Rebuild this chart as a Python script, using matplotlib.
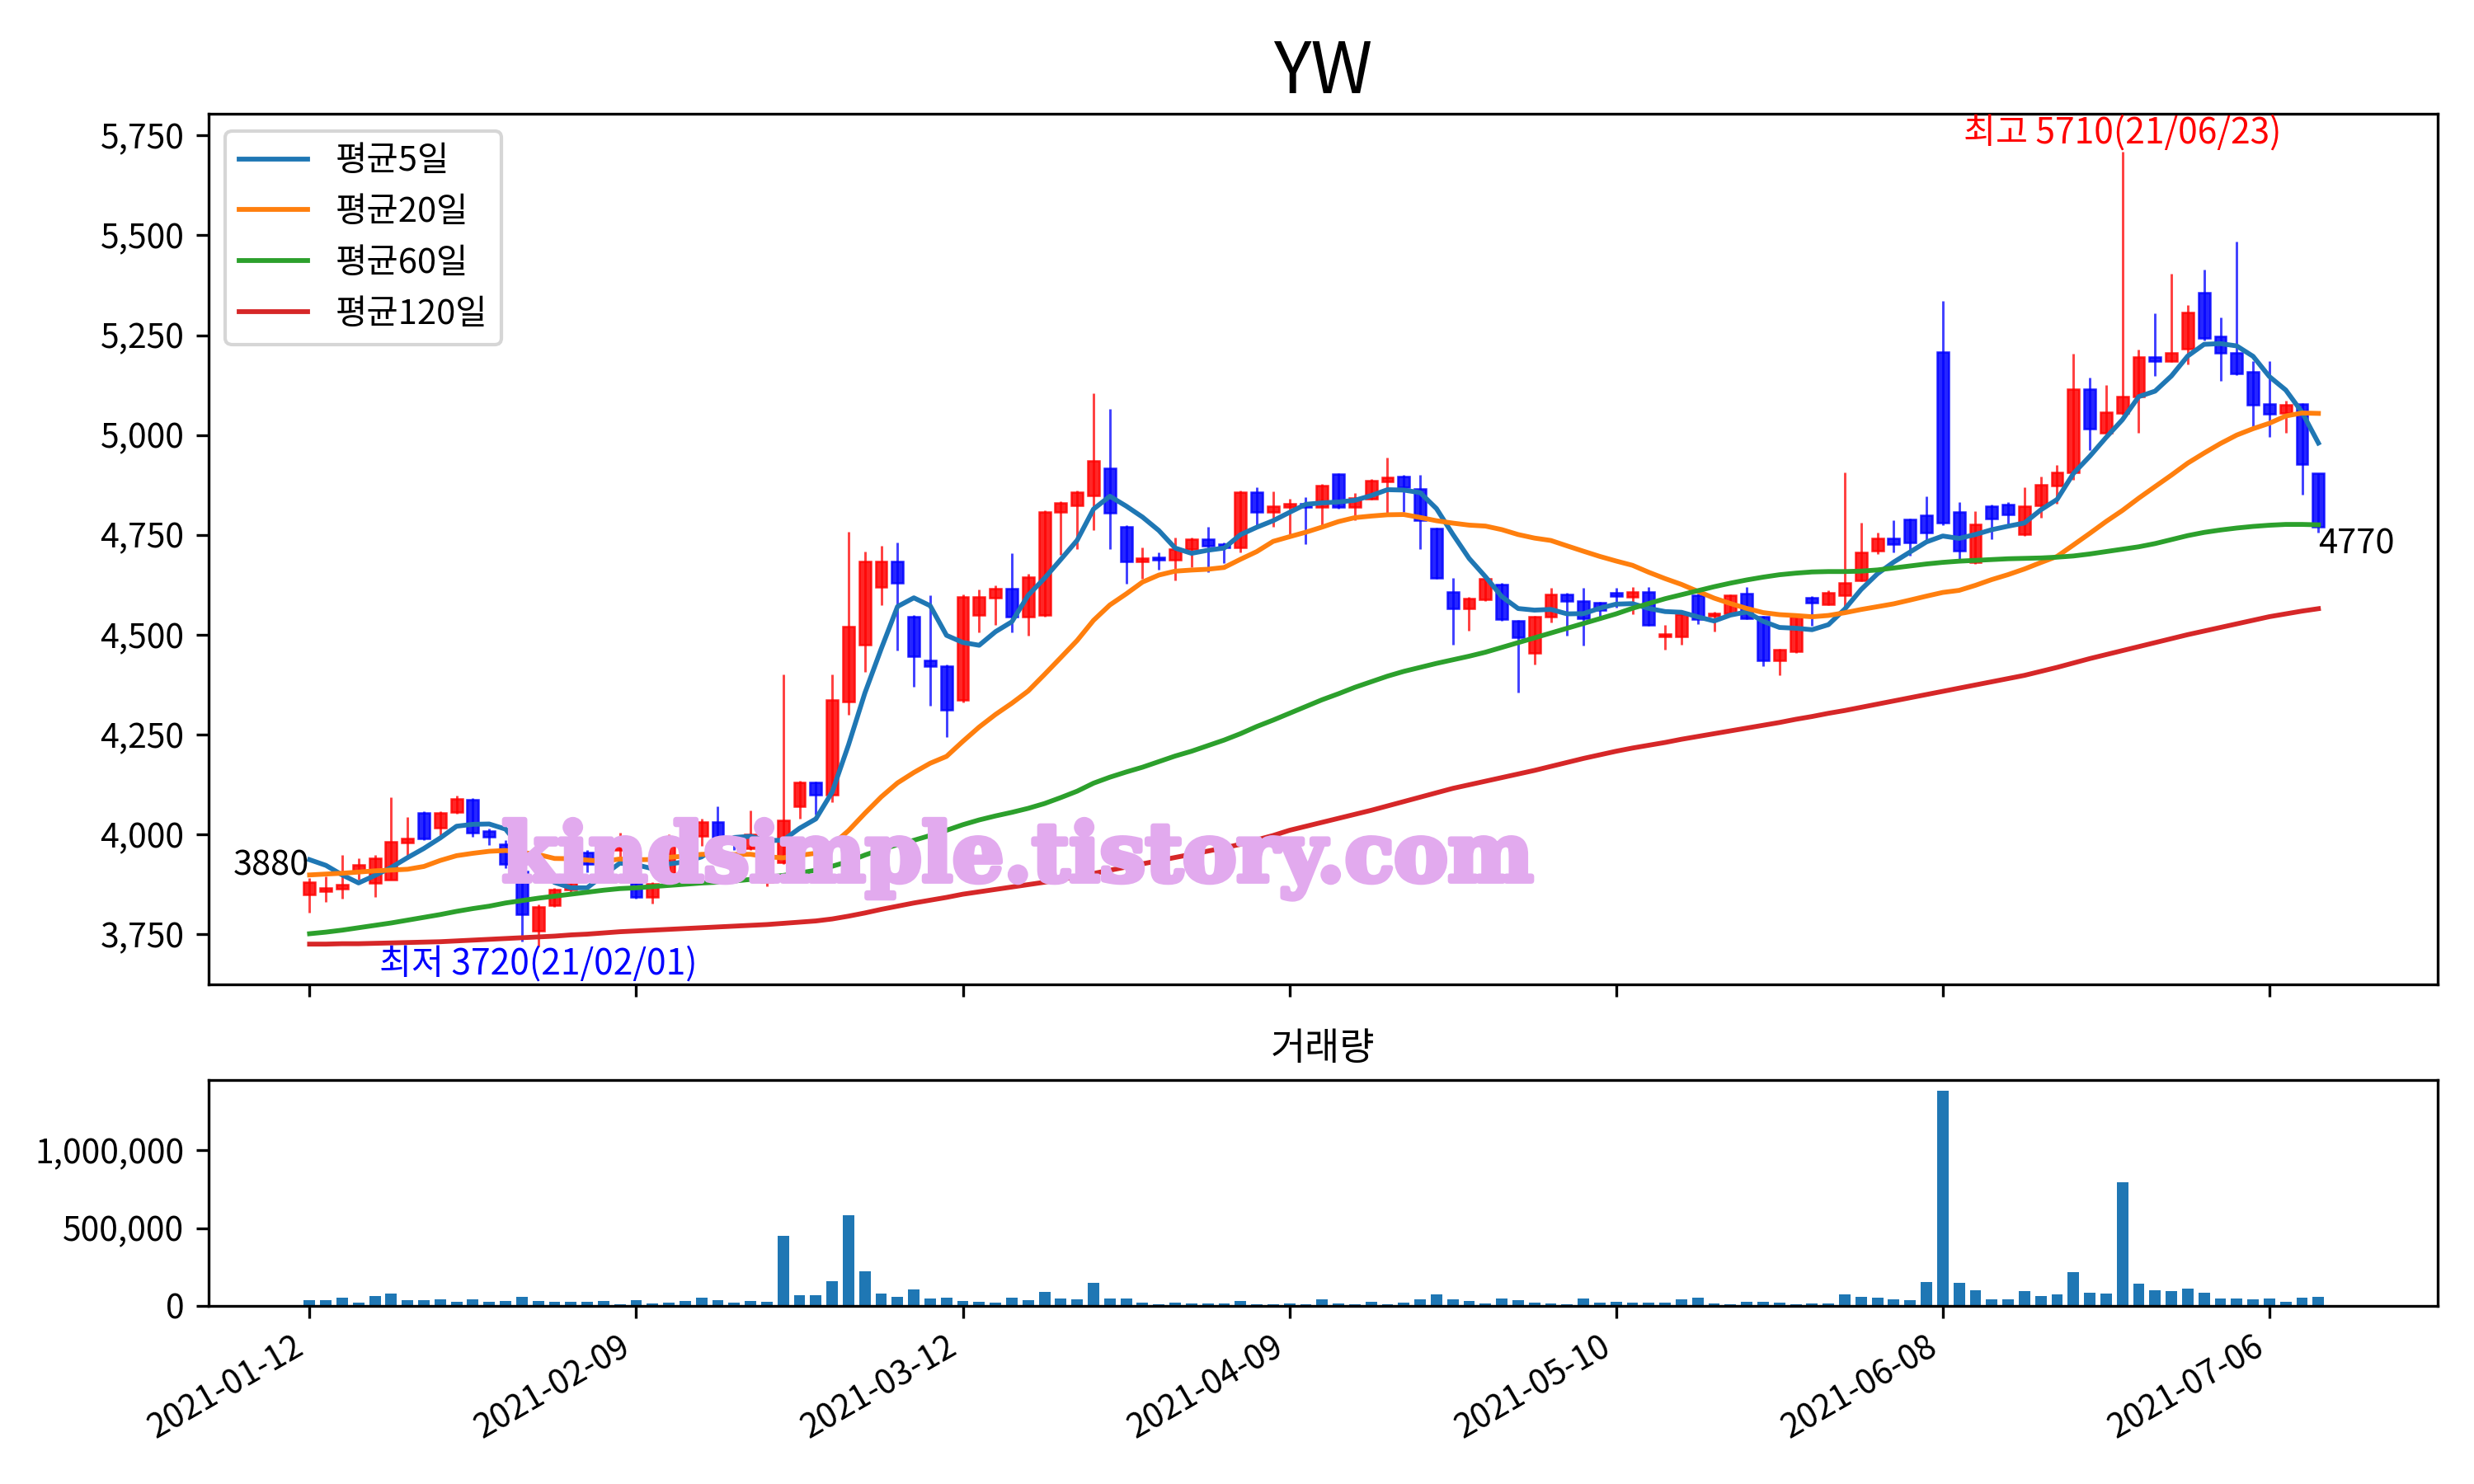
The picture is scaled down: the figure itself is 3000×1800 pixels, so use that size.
import numpy as np
import pandas as pd
import matplotlib
matplotlib.use('Agg')
import matplotlib.pyplot as plt
import matplotlib.patheffects as pe
from matplotlib.ticker import FuncFormatter

plt.rcParams['font.family'] = ['Noto Sans CJK KR', 'DejaVu Sans']
plt.rcParams['axes.unicode_minus'] = False

title = 'YW'
holidays = ['2021-02-11', '2021-02-12', '2021-03-01', '2021-05-05', '2021-05-19']
dates = pd.bdate_range('2021-01-12', periods=124, freq='C', holidays=holidays)

opens = [3850, 3857, 3864, 3910, 3878, 3886, 3979, 4054, 4017, 4056,
         4086, 4009, 3975, 3906, 3759, 3822, 3862, 3955, 3925, 3960,
         3878, 3842, 3880, 3990, 3995, 4030, 3985, 3965, 3880, 3930,
         4070, 4129, 4099, 4332, 4475, 4619, 4683, 4545, 4436, 4421,
         4337, 4549, 4592, 4616, 4545, 4549, 4807, 4824, 4848, 4916,
         4771, 4684, 4694, 4688, 4715, 4739, 4727, 4719, 4856, 4808,
         4819, 4827, 4819, 4902, 4819, 4840, 4884, 4896, 4866, 4765,
         4606, 4565, 4588, 4626, 4534, 4454, 4545, 4600, 4584, 4580,
         4604, 4595, 4606, 4495, 4495, 4599, 4546, 4553, 4602, 4544,
         4436, 4458, 4593, 4575, 4599, 4636, 4711, 4741, 4788, 4799,
         5207, 4807, 4681, 4822, 4826, 4751, 4823, 4873, 4907, 5115,
         5006, 5055, 5097, 5196, 5184, 5216, 5356, 5246, 5206, 5158,
         5077, 5055, 5077, 4905]
highs = [3890, 3894, 3949, 3939, 3949, 4092, 4044, 4058, 4058, 4096,
         4090, 4015, 3985, 3910, 3825, 3866, 3935, 3960, 3965, 4004,
         3885, 3880, 4000, 4000, 4040, 4070, 3990, 4060, 3940, 4400,
         4135, 4132, 4401, 4758, 4708, 4723, 4731, 4550, 4599, 4425,
         4600, 4614, 4624, 4704, 4652, 4811, 4835, 4860, 5104, 5065,
         4775, 4719, 4707, 4743, 4743, 4769, 4730, 4860, 4869, 4858,
         4840, 4845, 4878, 4905, 4854, 4890, 4943, 4900, 4900, 4768,
         4642, 4595, 4645, 4630, 4537, 4548, 4618, 4604, 4618, 4583,
         4618, 4619, 4619, 4524, 4555, 4602, 4558, 4600, 4619, 4546,
         4464, 4546, 4596, 4610, 4906, 4781, 4756, 4786, 4791, 4846,
         5336, 4831, 4809, 4825, 4831, 4869, 4895, 4925, 5204, 5144,
         5125, 5710, 5213, 5305, 5403, 5325, 5414, 5295, 5485, 5184,
         5184, 5085, 5080, 4905]
lows = [3803, 3830, 3838, 3886, 3842, 3886, 3937, 3985, 3997, 4052,
        3993, 3973, 3915, 3731, 3720, 3818, 3850, 3905, 3915, 3940,
        3838, 3827, 3870, 3965, 3970, 3975, 3960, 3960, 3870, 3925,
        4040, 4050, 4080, 4300, 4406, 4574, 4461, 4370, 4322, 4243,
        4330, 4505, 4525, 4505, 4497, 4545, 4700, 4715, 4761, 4715,
        4627, 4640, 4662, 4636, 4668, 4656, 4680, 4705, 4775, 4771,
        4751, 4726, 4775, 4815, 4787, 4838, 4803, 4807, 4715, 4640,
        4475, 4509, 4585, 4535, 4354, 4426, 4531, 4497, 4472, 4537,
        4567, 4552, 4522, 4462, 4475, 4527, 4507, 4550, 4539, 4421,
        4398, 4455, 4522, 4573, 4565, 4633, 4702, 4707, 4698, 4737,
        4775, 4689, 4678, 4740, 4776, 4748, 4792, 4827, 4887, 4962,
        5003, 5050, 5006, 5148, 5182, 5176, 5237, 5136, 5150, 5021,
        4996, 5006, 4851, 4756]
closes = [3880, 3866, 3874, 3923, 3941, 3981, 3989, 3989, 4054, 4088,
          4005, 3993, 3925, 3799, 3818, 3862, 3926, 3925, 3958, 3968,
          3842, 3876, 3985, 3984, 4030, 3980, 3981, 4000, 3930, 4035,
          4129, 4099, 4337, 4520, 4683, 4683, 4629, 4446, 4421, 4312,
          4594, 4594, 4616, 4545, 4644, 4807, 4830, 4856, 4935, 4805,
          4684, 4692, 4688, 4715, 4739, 4723, 4719, 4856, 4808, 4821,
          4827, 4820, 4874, 4819, 4842, 4886, 4894, 4869, 4787, 4642,
          4565, 4591, 4640, 4538, 4493, 4545, 4600, 4584, 4541, 4561,
          4596, 4606, 4524, 4502, 4552, 4539, 4554, 4598, 4541, 4435,
          4462, 4544, 4580, 4604, 4630, 4707, 4741, 4727, 4730, 4756,
          4781, 4711, 4776, 4790, 4800, 4821, 4875, 4907, 5115, 5015,
          5057, 5097, 5196, 5184, 5205, 5307, 5243, 5205, 5155, 5075,
          5053, 5075, 4926, 4770]
volumes_k = [35, 35, 51, 19, 62, 77, 35, 35, 40, 25,
             40, 25, 30, 56, 30, 25, 25, 25, 30, 9,
             35, 14, 19, 30, 51, 35, 19, 30, 25, 452,
             67, 67, 157, 585, 220, 77, 56, 104, 46, 51,
             30, 25, 19, 51, 35, 88, 46, 40, 146, 46,
             46, 19, 9, 19, 14, 14, 14, 30, 9, 9,
             14, 9, 40, 14, 9, 25, 9, 19, 40, 72,
             40, 30, 14, 46, 35, 19, 14, 9, 46, 19,
             25, 19, 19, 19, 40, 51, 14, 9, 25, 25,
             19, 9, 14, 14, 72, 56, 51, 40, 35, 151,
             1382, 146, 99, 40, 40, 93, 62, 72, 215, 83,
             77, 796, 141, 99, 93, 109, 83, 46, 46, 40,
             46, 25, 51, 56]
# closes of the 19 trading days before the window (for the 5/20-day averages)
prior_closes = [3822, 3834, 3863, 3881, 3941, 3949, 3849, 3754, 3848, 3885,
                3893, 3885, 3899, 3918, 4062, 3937, 3994, 4023, 3848]
# 60- and 120-day averages (need history outside the window)
ma60 = [3751, 3755, 3760, 3766, 3772, 3778, 3785, 3792, 3799, 3807,
        3814, 3820, 3828, 3834, 3840, 3845, 3850, 3855, 3860, 3864,
        3866, 3869, 3872, 3875, 3878, 3880, 3883, 3887, 3892, 3897,
        3903, 3910, 3920, 3932, 3948, 3962, 3974, 3985, 3997, 4010,
        4024, 4036, 4046, 4055, 4065, 4077, 4092, 4108, 4128, 4143,
        4156, 4168, 4182, 4196, 4208, 4222, 4236, 4252, 4270, 4286,
        4303, 4320, 4337, 4352, 4368, 4382, 4396, 4408, 4418, 4428,
        4437, 4446, 4456, 4468, 4480, 4492, 4504, 4516, 4528, 4540,
        4552, 4566, 4578, 4590, 4600, 4610, 4620, 4629, 4637, 4644,
        4650, 4654, 4657, 4658, 4658, 4659, 4662, 4667, 4672, 4677,
        4681, 4684, 4686, 4688, 4690, 4691, 4692, 4694, 4697, 4702,
        4708, 4714, 4720, 4728, 4738, 4748, 4756, 4762, 4767, 4771,
        4774, 4776, 4776, 4775]
ma120 = [3725, 3725, 3726, 3726, 3727, 3728, 3729, 3730, 3731, 3733,
         3735, 3737, 3739, 3741, 3743, 3745, 3748, 3750, 3753, 3756,
         3758, 3760, 3762, 3764, 3766, 3768, 3770, 3772, 3774, 3777,
         3780, 3783, 3788, 3795, 3803, 3812, 3820, 3828, 3835, 3842,
         3850, 3856, 3862, 3868, 3874, 3880, 3887, 3894, 3902, 3910,
         3918, 3926, 3934, 3942, 3950, 3958, 3966, 3975, 3986, 3997,
         4010, 4020, 4030, 4040, 4050, 4060, 4071, 4082, 4093, 4104,
         4115, 4124, 4133, 4142, 4151, 4160, 4170, 4180, 4190, 4199,
         4208, 4216, 4223, 4230, 4238, 4245, 4252, 4259, 4266, 4273,
         4280, 4288, 4295, 4303, 4310, 4318, 4326, 4334, 4342, 4350,
         4358, 4366, 4374, 4382, 4390, 4398, 4408, 4418, 4429, 4440,
         4450, 4460, 4470, 4480, 4490, 4500, 4509, 4518, 4527, 4536,
         4545, 4552, 4559, 4565]
ma_labels = ['평균5일', '평균20일', '평균60일', '평균120일']
watermark = 'kindsimple.tistory.com'

o = np.array(opens, float)
h = np.array(highs, float)
l = np.array(lows, float)
c = np.array(closes, float)
v = np.array(volumes_k, float) * 1000
n = len(c)
x = np.arange(n)

ext = pd.Series(prior_closes + closes, dtype=float)
k = len(prior_closes)
ma5 = ext.rolling(5).mean().values[k:]
ma20 = ext.rolling(20).mean().values[k:]

fig = plt.figure(figsize=(10, 6), dpi=300)
ax1 = fig.add_axes([0.0842, 0.3369, 0.9011, 0.5866])
ax2 = fig.add_axes([0.0842, 0.1201, 0.9011, 0.1520], sharex=ax1)

up = c >= o
cols = np.where(up, '#ff0000', '#0000ff')
ax1.vlines(x, l, h, colors=cols, linewidth=0.7, alpha=0.75)
ax1.bar(x, np.abs(c - o), bottom=np.minimum(o, c), width=0.7, color=cols,
        edgecolor=cols, linewidth=0.6, alpha=0.85)

for vals, lab, col in zip([ma5, ma20, ma60, ma120], ma_labels,
                          ['#1f77b4', '#ff7f0e', '#2ca02c', '#d62728']):
    ax1.plot(x, vals, color=col, linewidth=1.4, label=lab)

ax1.legend(loc='upper left', fontsize=10)
ax1.set_title(title, fontsize=20.5)

imax = int(np.argmax(h))
imin = int(np.argmin(l))
ax1.text(imax, h[imax], f'최고 {int(h[imax])}({dates[imax].strftime("%y/%m/%d")})',
         color='red', ha='center', va='bottom', fontsize=10.2)
ax1.text(imin, l[imin], f'최저 {int(l[imin])}({dates[imin].strftime("%y/%m/%d")})',
         color='blue', ha='center', va='top', fontsize=10.2)
ax1.text(0, c[0], f'{int(c[0])}', ha='right', va='bottom', fontsize=10)
ax1.text(n - 1, c[-1], f'{int(c[-1])}', ha='left', va='top', fontsize=10)

ax1.text(0.363, 0.143, watermark, transform=ax1.transAxes, ha='center', va='center',
         fontsize=23.5, family='DejaVu Serif', weight='bold', color='#e2aaee', zorder=10,
         path_effects=[pe.withStroke(linewidth=1.6, foreground='#e2aaee')])

ax1.set_ylim(3625, 5805)
ax1.yaxis.set_major_formatter(FuncFormatter(lambda y, p: f'{int(y):,}'))
ax1.set_yticks(np.arange(3750, 5751, 250))

ax2.bar(x, v, width=0.7, color='#1f77b4')
ax2.set_title('거래량', fontsize=11)
ax2.yaxis.set_major_formatter(FuncFormatter(lambda y, p: f'{int(y):,}'))
ax2.set_yticks([0, 500000, 1000000])
ax2.set_ylim(0, v.max() * 1.05)

ticks = list(range(0, n, 20))
ax2.set_xticks(ticks)
ax2.set_xticklabels([dates[i].strftime('%Y-%m-%d') for i in ticks], rotation=30, ha='right')
plt.setp(ax1.get_xticklabels(), visible=False)
ax1.set_xlim(-6.2, 130.3)

for ax in (ax1, ax2):
    ax.tick_params(labelsize=9.8)

fig.savefig('out.png', dpi=300)
